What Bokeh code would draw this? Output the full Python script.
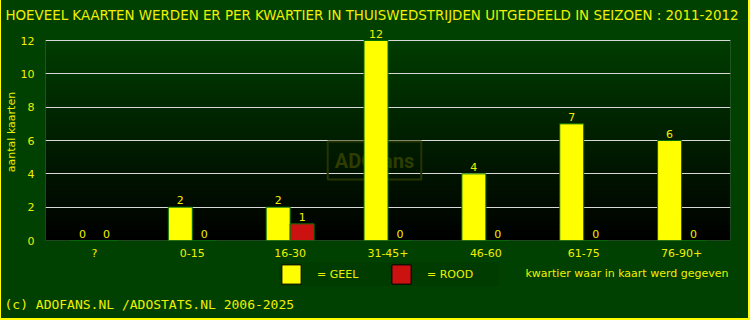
import numpy as np
from bokeh.plotting import figure
from bokeh.layouts import column
from bokeh.models import (ColumnDataSource, FactorRange, Label, Legend, LegendItem,
                          BoxAnnotation, FixedTicker)
from bokeh.transform import dodge
from bokeh.core.properties import value
from bokeh.embed import file_html
from bokeh.resources import INLINE

# ---- data ----
categories = ["?", "0-15", "16-30", "31-45+", "46-60", "61-75", "76-90+"]
geel = [0, 2, 2, 12, 4, 7, 6]
rood = [0, 0, 1, 0, 0, 0, 0]
y_ticks = [0, 2, 4, 6, 8, 10, 12]

title_text = "HOEVEEL KAARTEN WERDEN ER PER KWARTIER IN THUISWEDSTRIJDEN UITGEDEELD IN SEIZOEN : 2011-2012"
y_title = "aantal kaarten"
x_title = "kwartier waar in kaart werd gegeven"
footer_text = "(c) ADOFANS.NL /ADOSTATS.NL 2006-2025"
series_names = ["= GEEL", "= ROOD"]

YELLOW_TXT = "#F0F000"
BG = "#004000"
FONT = "DejaVu Sans"
YMAX = max(y_ticks)

src = ColumnDataSource(dict(cat=categories, geel=geel, rood=rood,
                            geel_txt=[str(v) for v in geel],
                            rood_txt=[str(v) for v in rood]))

# ---------------- main chart ----------------
p = figure(x_range=FactorRange(*categories), y_range=(0, YMAX * 1.085),
           width=747, height=262, output_backend="svg", toolbar_location=None,
           min_border_left=44, min_border_right=18, min_border_top=23, min_border_bottom=22,
           frame_align=False)
p.border_fill_color = BG
p.background_fill_color = BG
p.outline_line_color = None

# gradient background for the plot area (0..YMAX)
n = 200
grad = np.zeros((n, 1), dtype=np.uint32)
view = grad.view(dtype=np.uint8).reshape((n, 1, 4))
for i in range(n):
    t = i / (n - 1)  # 0 bottom -> 1 top
    view[i, 0, 1] = int(round(0x3c * t))
    view[i, 0, 3] = 255
p.image_rgba(image=[grad], x=0, y=0, dw=len(categories), dh=YMAX, level="image")

# watermark
p.add_layout(Label(x=329, y=80, x_units="screen", y_units="screen", text="ADOfans",
                   text_font="Roboto", text_font_style="bold",
                   text_font_size="20px", text_color="#2e3c00", text_align="center",
                   text_baseline="middle", border_line_color="#263400", border_line_width=2,
                   padding=7, level="underlay"))

bw = 0.245
off = bw / 2
p.vbar(x=dodge("cat", -off, range=p.x_range), top="geel", width=bw, source=src,
       fill_color="#FFFF00", line_color="#007000", line_width=1)
p.vbar(x=dodge("cat", off, range=p.x_range), top="rood", width=bw, source=src,
       fill_color="#CC1111", line_color="#007000", line_width=1)

p.text(x=dodge("cat", -off, range=p.x_range), y="geel", text="geel_txt", source=src,
       text_align="center", text_baseline="bottom", y_offset=-3,
       text_font=value(FONT), text_font_size="11px", text_color=YELLOW_TXT)
p.text(x=dodge("cat", off, range=p.x_range), y="rood", text="rood_txt", source=src,
       text_align="center", text_baseline="bottom", y_offset=-3,
       text_font=value(FONT), text_font_size="11px", text_color=YELLOW_TXT)

# plot-area frame (0..YMAX)
p.add_layout(BoxAnnotation(bottom=0, top=YMAX, fill_alpha=0,
                           line_color="#D8D8D8", line_width=1, level="underlay"))

# axes
p.xgrid.grid_line_color = None
p.ygrid.grid_line_color = "#D8D8D8"
p.ygrid.grid_line_width = 1
p.yaxis.ticker = FixedTicker(ticks=y_ticks)
for ax in (p.xaxis[0], p.yaxis[0]):
    ax.axis_line_color = None
    ax.major_tick_line_color = None
    ax.minor_tick_line_color = None
    ax.major_tick_out = 0
    ax.major_tick_in = 0
    ax.minor_tick_out = 0
    ax.major_label_text_color = YELLOW_TXT
    ax.major_label_text_font = FONT
    ax.major_label_text_font_size = "11px"
    ax.axis_label_text_color = YELLOW_TXT
    ax.axis_label_text_font = FONT
    ax.axis_label_text_font_size = "11px"
    ax.axis_label_text_font_style = "normal"
p.xaxis.major_label_standoff = 6
p.yaxis.major_label_standoff = 11
p.yaxis.axis_label = y_title
p.yaxis.axis_label_standoff = 0

# title
p.title.text = title_text
p.title.text_font = FONT
p.title.text_font_size = "13.4px"
p.title.text_font_style = "normal"
p.title.text_color = YELLOW_TXT
p.title.align = "left"
p.title.offset = -40
p.title.standoff = 2

# ---------------- bottom strip: legend, x title, footer ----------------
q = figure(x_range=(0, 747), y_range=(0, 56), width=747, height=56,
           output_backend="svg", toolbar_location=None,
           x_axis_location=None, y_axis_location=None,
           min_border_left=0, min_border_right=0, min_border_top=0, min_border_bottom=0,
           frame_align=False)
q.border_fill_color = BG
q.background_fill_color = BG
q.outline_line_color = None
q.grid.grid_line_color = None

nan_src = ColumnDataSource(dict(x=[float("nan")], top=[float("nan")]))
lg1 = q.vbar(x="x", top="top", width=1, source=nan_src, fill_color="#FFFF00", line_color="#000000")
lg2 = q.vbar(x="x", top="top", width=1, source=nan_src, fill_color="#CC1111", line_color="#000000")
legend = Legend(items=[LegendItem(label=series_names[0], renderers=[lg1]),
                       LegendItem(label=series_names[1], renderers=[lg2])],
                orientation="horizontal", location=(278, 32),
                glyph_width=24, glyph_height=24, label_standoff=14, label_width=72,
                spacing=0, padding=8, margin=0,
                background_fill_color="#003c00", background_fill_alpha=1,
                border_line_color=None,
                label_text_color=YELLOW_TXT, label_text_font=FONT, label_text_font_size="11px")
q.add_layout(legend)

q.add_layout(Label(x=727, y=45, text=x_title, text_font=FONT, text_font_size="11px",
                   text_color=YELLOW_TXT, text_baseline="middle", text_align="right"))
q.add_layout(Label(x=3, y=14, text=footer_text, text_font="DejaVu Sans Mono",
                   text_font_size="13px", text_color=YELLOW_TXT,
                   text_baseline="middle", text_align="left"))

# yellow outer frame (left, right, bottom) drawn as the wrapper's border
page = column(p, q, spacing=0,
              styles={"background-color": BG,
                      "border-left": "1px solid #FFFF00",
                      "border-right": "2px solid #FFFF00",
                      "border-bottom": "2px solid #FFFF00"})

open("out.html", "w").write(file_html(page, INLINE))
